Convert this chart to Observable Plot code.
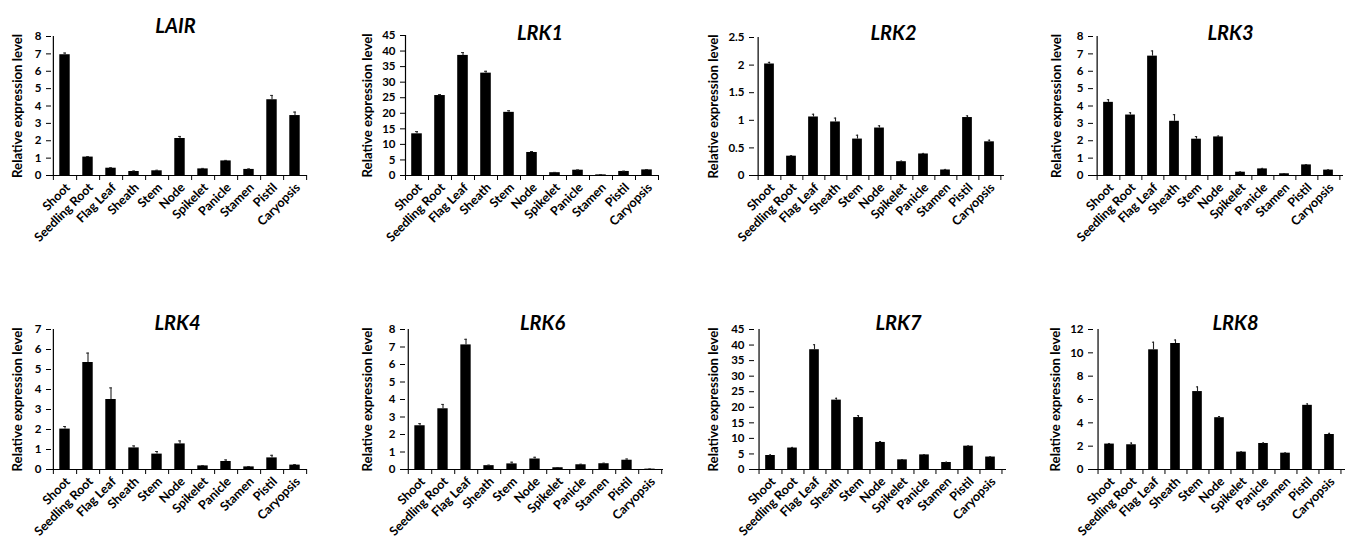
<!DOCTYPE html>
<html><head><meta charset="utf-8">
<script src="https://cdn.jsdelivr.net/npm/d3@7"></script>
<script src="https://cdn.jsdelivr.net/npm/@observablehq/plot@0.6"></script>
<style>
body{margin:0;background:#fff;}
#wrap{position:relative;width:1353px;height:541px;overflow:hidden;background:#fff;}
.panel{position:absolute;}
.panel svg{overflow:visible;}
.panel svg text{font-weight:bold;}
</style></head><body><div id="wrap"></div>
<script>
const categories = ["Shoot","Seedling Root","Flag Leaf","Sheath","Stem","Node","Spikelet","Panicle","Stamen","Pistil","Caryopsis"];

const lairValues = [6.95,1.06,0.42,0.23,0.27,2.13,0.38,0.84,0.35,4.36,3.45];
const lairErrors = [0.10,0.03,0.03,0.03,0.03,0.12,0.03,0.03,0.03,0.25,0.20];
const lairTicks  = [0,1,2,3,4,5,6,7,8];

const lrk1Values = [13.4,25.7,38.6,32.9,20.3,7.4,0.9,1.7,0.2,1.3,1.8];
const lrk1Errors = [0.7,0.3,0.9,0.6,0.5,0.3,0.1,0.1,0.05,0.1,0.1];
const lrk1Ticks  = [0,5,10,15,20,25,30,35,40,45];

const lrk2Values = [2.02,0.35,1.06,0.97,0.66,0.86,0.25,0.39,0.10,1.05,0.61];
const lrk2Errors = [0.03,0.01,0.05,0.07,0.07,0.04,0.01,0.01,0.01,0.03,0.03];
const lrk2Ticks  = [0,0.5,1,1.5,2,2.5];

const lrk3Values = [4.21,3.48,6.87,3.12,2.09,2.22,0.19,0.38,0.10,0.61,0.31];
const lrk3Errors = [0.15,0.13,0.30,0.38,0.15,0.05,0.02,0.03,0.01,0.02,0.02];
const lrk3Ticks  = [0,1,2,3,4,5,6,7,8];

const lrk4Values = [2.02,5.35,3.50,1.08,0.77,1.28,0.18,0.40,0.13,0.58,0.22];
const lrk4Errors = [0.13,0.47,0.58,0.10,0.13,0.15,0.02,0.08,0.02,0.13,0.03];
const lrk4Ticks  = [0,1,2,3,4,5,6,7];

const lrk6Values = [2.50,3.47,7.12,0.22,0.32,0.60,0.10,0.27,0.33,0.53,0.02];
const lrk6Errors = [0.12,0.25,0.32,0.03,0.10,0.10,0.01,0.03,0.03,0.07,0.01];
const lrk6Ticks  = [0,1,2,3,4,5,6,7,8];

const lrk7Values = [4.5,6.9,38.5,22.3,16.7,8.7,3.1,4.7,2.25,7.5,4.0];
const lrk7Errors = [0.2,0.2,1.6,0.6,0.6,0.3,0.1,0.1,0.1,0.1,0.1];
const lrk7Ticks  = [0,5,10,15,20,25,30,35,40,45];

const lrk8Values = [2.18,2.12,10.26,10.8,6.68,4.44,1.49,2.23,1.40,5.50,3.00];
const lrk8Errors = [0.05,0.15,0.65,0.30,0.40,0.10,0.03,0.05,0.03,0.12,0.10];
const lrk8Ticks  = [0,2,4,6,8,10,12];

const yLabel = "Relative expression level";

const panels = [
  {title:"LAIR", values:lairValues, errors:lairErrors, ticks:lairTicks, left:0,    top:0,   width:338, height:280, ml:51, mr:31, mt:36, mb:105, tdx:-4, tdy:-18, ldx:-34},
  {title:"LRK1", values:lrk1Values, errors:lrk1Errors, ticks:lrk1Ticks, left:338,  top:0,   width:338, height:280, ml:67, mr:18, mt:35, mb:105, tdx:8,  tdy:-10, ldx:-38},
  {title:"LRK2", values:lrk2Values, errors:lrk2Errors, ticks:lrk2Ticks, left:676,  top:0,   width:337, height:280, ml:78, mr:9,  mt:37, mb:105, tdx:14, tdy:-12, ldx:-41},
  {title:"LRK3", values:lrk3Values, errors:lrk3Errors, ticks:lrk3Ticks, left:1013, top:0,   width:340, height:280, ml:80, mr:10, mt:36, mb:105, tdx:12, tdy:-11, ldx:-37},
  {title:"LRK4", values:lrk4Values, errors:lrk4Errors, ticks:lrk4Ticks, left:0,    top:280, width:338, height:261, ml:51, mr:31, mt:49, mb:72,  tdx:-2, tdy:-14, ldx:-34},
  {title:"LRK6", values:lrk6Values, errors:lrk6Errors, ticks:lrk6Ticks, left:338,  top:280, width:338, height:261, ml:67, mr:13, mt:49, mb:72,  tdx:8,  tdy:-14, ldx:-38},
  {title:"LRK7", values:lrk7Values, errors:lrk7Errors, ticks:lrk7Ticks, left:676,  top:280, width:337, height:261, ml:78, mr:7,  mt:49, mb:72,  tdx:18, tdy:-14, ldx:-41},
  {title:"LRK8", values:lrk8Values, errors:lrk8Errors, ticks:lrk8Ticks, left:1013, top:280, width:340, height:261, ml:80, mr:8,  mt:49, mb:72,  tdx:16, tdy:-14, ldx:-38}
];

const wrap = document.getElementById("wrap");

function makePanel(p) {
  const data = categories.map((c, i) => ({cat: c, v: p.values[i], e: p.errors[i]}));
  const step = (p.width - p.ml - p.mr) / categories.length;
  const ymax = p.ticks[p.ticks.length - 1];
  const barInset = step * 0.27;
  const capInset = (step - 3) / 2;
  const chart = Plot.plot({
    width: p.width,
    height: p.height,
    marginLeft: p.ml, marginRight: p.mr, marginTop: p.mt, marginBottom: p.mb,
    style: {fontFamily: "Lato, 'Open Sans', sans-serif", fontWeight: "bold", fontSize: "11.5px", color: "#000", background: "transparent", overflow: "visible"},
    x: {domain: categories, padding: 0, axis: null},
    y: {domain: [0, ymax], ticks: p.ticks, tickSize: 5, tickPadding: 5, label: null, tickFormat: d => String(d)},
    marks: [
      Plot.barY(data, {x: "cat", y: "v", fill: "#000", insetLeft: barInset, insetRight: barInset}),
      Plot.ruleX(data, {x: "cat", y1: d => d.v, y2: d => d.v + d.e, stroke: "#222", strokeWidth: 1.1}),
      Plot.tickY(data, {x: "cat", y: d => d.v + d.e, stroke: "#222", strokeWidth: 1, insetLeft: capInset, insetRight: capInset}),
      Plot.ruleY([0], {stroke: "#000", strokeWidth: 1.2}),
      Plot.ruleX([categories[0]], {x: d => d, y1: () => 0, y2: () => ymax, dx: -step / 2, stroke: "#000", strokeWidth: 1.2}),
      Plot.ruleX(categories, {x: d => d, y1: () => 0, y2: () => 0, insetBottom: -5, dx: step / 2, stroke: "#000", strokeWidth: 1}),
      Plot.ruleX([categories[0]], {x: d => d, y1: () => 0, y2: () => 0, insetBottom: -5, dx: -step / 2, stroke: "#000", strokeWidth: 1}),
      Plot.text(categories, {x: d => d, y: () => 0, text: d => d, rotate: -45, textAnchor: "end", lineAnchor: "middle", dx: 3, dy: 10, fontSize: 12.5, fontWeight: "bold", fill: "#000"}),
      Plot.text([{t: p.title}], {text: "t", frameAnchor: "top", textAnchor: "middle", dx: p.tdx, dy: p.tdy, fontSize: 20, fontWeight: "bold", fontStyle: "italic", fill: "#000"}),
      Plot.text([{t: yLabel}], {text: "t", frameAnchor: "left", textAnchor: "middle", rotate: -90, dx: p.ldx, fontSize: 13.2, fontWeight: "bold", fill: "#000"})
    ]
  });
  const div = document.createElement("div");
  div.className = "panel";
  div.style.left = p.left + "px";
  div.style.top = p.top + "px";
  div.appendChild(chart);
  wrap.appendChild(div);
}

panels.forEach(makePanel);
</script>
</body></html>
